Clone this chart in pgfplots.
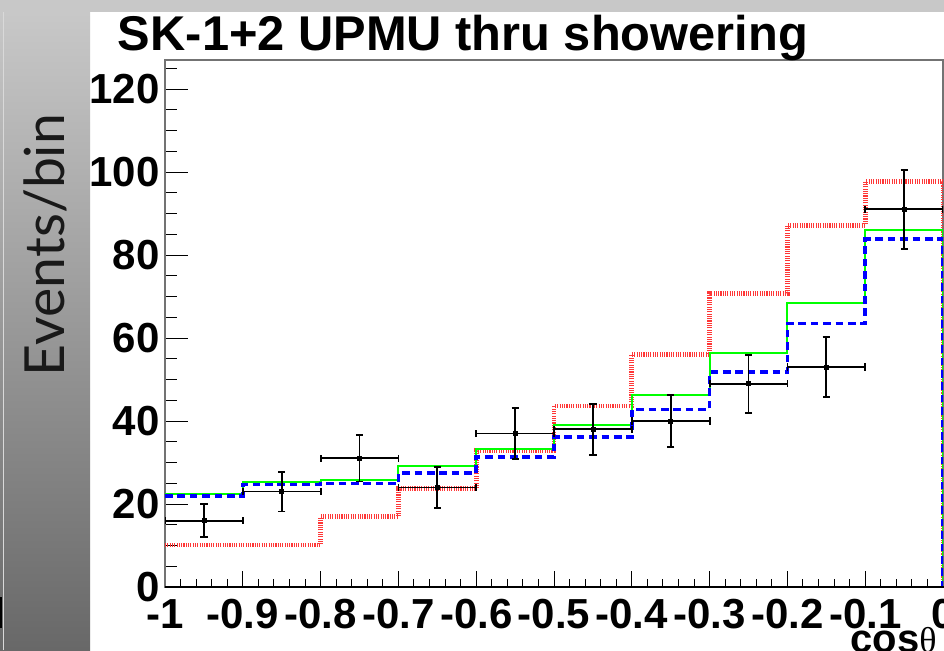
\documentclass[border=0pt]{standalone}
\usepackage{pgfplots}
\pgfplotsset{compat=1.18}
\usepackage{pgfplotstable}
\usepackage{fontspec}
\setmainfont{Liberation Sans}
\newfontfamily\labelfont{Lato}
\newfontfamily\greekfont{Liberation Serif}

% Observed events per bin: bin centre, count, half bin width, sqrt(N)
\pgfplotstableread{
x      y   ex    ey
-0.95  16  0.05  4.00
-0.85  23  0.05  4.80
-0.75  31  0.05  5.57
-0.65  24  0.05  4.90
-0.55  37  0.05  6.08
-0.45  38  0.05  6.16
-0.35  40  0.05  6.32
-0.25  49  0.05  7.00
-0.15  53  0.05  7.28
-0.05  91  0.05  9.54
}\datatable

% Expected events per bin (left bin edge, content), closed at cos = 0
\pgfplotstableread{
x     y
-1.0  22.3
-0.9  25.3
-0.8  25.9
-0.7  29.2
-0.6  33.3
-0.5  39.0
-0.4  46.3
-0.3  56.3
-0.2  68.4
-0.1  86.0
 0.0  86.0
 0.0  0
}\greenhist

\pgfplotstableread{
x     y
-1.0  21.9
-0.9  24.7
-0.8  24.9
-0.7  27.5
-0.6  31.4
-0.5  36.2
-0.4  42.8
-0.3  51.8
-0.2  63.5
-0.1  83.8
 0.0  83.8
 0.0  0
}\bluehist

\pgfplotstableread{
x     y
-1.0  10.1
-0.9  10.1
-0.8  16.9
-0.7  23.7
-0.6  32.8
-0.5  43.6
-0.4  56.1
-0.3  70.8
-0.2  87.2
-0.1  97.7
 0.0  97.7
 0.0  0
}\redhist

\definecolor{histred}{RGB}{255,55,55}
\definecolor{histgreen}{RGB}{0,255,0}
\definecolor{histblue}{RGB}{0,0,255}
\definecolor{bargray}{RGB}{200,200,200}
\definecolor{shadetop}{RGB}{200,200,200}
\definecolor{shadebot}{RGB}{104,104,104}

\begin{document}
\begin{tikzpicture}
\useasboundingbox (0pt,0pt) rectangle (472pt,325pt);
\clip (0pt,0pt) rectangle (472pt,325pt);
\fill[white] (0pt,0pt) rectangle (472pt,325pt);
% side panel and top band
\shade[top color=shadetop, bottom color=shadebot] (0pt,0pt) rectangle (45pt,319pt);
\draw[white!70!gray, line width=0.4pt] (1.6pt,0pt) -- (1.6pt,319pt);
\fill[bargray] (0pt,319pt) rectangle (472pt,325pt);
\fill[black] (0pt,11pt) rectangle (1pt,26.5pt);

\node[rotate=90, text=black!90] at (22.5pt,202.5pt)
  {\resizebox{131pt}{!}{\labelfont Events/bin}};

\begin{axis}[
  at={(82.5pt,31.5pt)}, anchor=south west,
  scale only axis, width=389pt, height=263.5pt,
  xmin=-1, xmax=0, ymin=0, ymax=127,
  axis line style={draw=black!55, line width=0.8pt},
  xtick={-1,-0.9,-0.8,-0.7,-0.6,-0.5,-0.4,-0.3,-0.2,-0.1,0},
  xticklabels={-1,-0.9,-0.8,-0.7,-0.6,-0.5,-0.4,-0.3,-0.2,-0.1,0},
  minor xtick={-0.98,-0.96,-0.94,-0.92,-0.88,-0.86,-0.84,-0.82,
               -0.78,-0.76,-0.74,-0.72,-0.68,-0.66,-0.64,-0.62,
               -0.58,-0.56,-0.54,-0.52,-0.48,-0.46,-0.44,-0.42,
               -0.38,-0.36,-0.34,-0.32,-0.28,-0.26,-0.24,-0.22,
               -0.18,-0.16,-0.14,-0.12,-0.08,-0.06,-0.04,-0.02},
  ytick={0,20,40,60,80,100,120},
  yticklabels={0,20,40,60,80,100,120},
  minor ytick={5,10,15,25,30,35,45,50,55,65,70,75,85,90,95,105,110,115,125},
  xtick pos=left, ytick pos=left,
  tick align=inside,
  major tick length=11.5pt, minor tick length=6pt,
  xtick style={/pgfplots/major tick length=8pt, /pgfplots/minor tick length=4pt},
  tick style={black, line width=0.5pt},
  ticklabel style={font=\fontsize{21}{21}\selectfont\bfseries},
  xticklabel style={anchor=north, inner sep=0pt, yshift=-6pt},
  yticklabel style={anchor=east, inner sep=0pt, xshift=-2.5pt},
]
\addplot[const plot, draw=histred, line width=2.4pt, dash pattern=on 0.55pt off 0.6pt]
  table[x=x, y=y] {\redhist};
\addplot[const plot, draw=histgreen, line width=1pt]
  table[x=x, y=y] {\greenhist};
\addplot[const plot, draw=histblue, line width=1.8pt, dash pattern=on 3.8pt off 2.4pt]
  table[x=x, y=y] {\bluehist};
\addplot[only marks, mark=square*, mark size=1pt, black,
  error bars/.cd,
    x dir=both, x explicit, y dir=both, y explicit,
    error mark=|, error mark options={mark size=1.8pt, line width=0.9pt, black},
    error bar style={line width=0.9pt, black}]
  table[x=x, y=y, x error=ex, y error=ey] {\datatable};
\end{axis}
\draw[black, line width=0.6pt] (82.5pt,31.5pt) -- (472pt,31.5pt);

\node[anchor=base, inner sep=0pt, font=\fontsize{24.4}{28}\selectfont\bfseries]
  at (231.5pt,300pt) {SK-1+2 UPMU thru showering};
\node[anchor=base west, inner sep=0pt] at (425pt,-1pt)
  {\fontsize{20}{20}\selectfont\bfseries cos{\greekfont\mdseries\fontsize{18}{18}\selectfont θ}};
\end{tikzpicture}
\end{document}
